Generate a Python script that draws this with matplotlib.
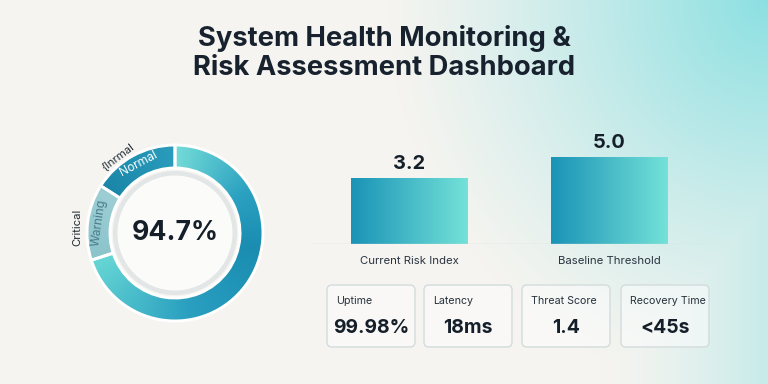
import numpy as np
import matplotlib
matplotlib.use("Agg")
import matplotlib.pyplot as plt
from matplotlib.patches import Circle, FancyBboxPatch
from matplotlib.colors import to_rgb

plt.rcParams['font.family'] = ['Inter', 'DejaVu Sans']

# ---- data ----
title_lines = ["System Health Monitoring &", "Risk Assessment Dashboard"]

ring_names = ["Healthy", "Warning", "Normal"]
ring_values = [70, 14, 16]
center_value = "94.7%"

bar_labels = ["Current Risk Index", "Baseline Threshold"]
bar_values = [3.2, 5.0]

kpi_labels = ["Uptime", "Latency", "Threat Score", "Recovery Time"]
kpi_values = ["99.98%", "18ms", "1.4", "<45s"]

W, H = 768, 384
fig = plt.figure(figsize=(W / 96, H / 96), dpi=96)

# ---- background ----
bg = fig.add_axes([0, 0, 1, 1])
yy, xx = np.mgrid[0:H, 0:W] + 0.5
d = np.sqrt(((W - xx) / 380.0) ** 2 + (yy / 400.0) ** 2)
t = np.clip(1 - d, 0, 1) ** 1.2
t = np.maximum(t, np.clip((xx - 600) / 168.0, 0, 1) ** 1.5 * 0.45)
c0 = np.array(to_rgb('#f5f4f0'))
c1 = np.array(to_rgb('#8ce0e2'))
img = c0[None, None, :] * (1 - t[..., None]) + c1[None, None, :] * t[..., None]
bg.imshow(img, extent=(0, W, H, 0), aspect='auto', zorder=0)
bg.set_xlim(0, W)
bg.set_ylim(H, 0)
bg.axis('off')

for i, line in enumerate(title_lines):
    bg.text(W / 2, 38 + 30 * i, line, ha='center', va='center', fontsize=20.5,
            fontweight='bold', color='#17222e', zorder=3)

# ---- KPI cards ----
card_x = [327, 424, 522, 621]
card_w, card_top, card_h = 88, 285, 62
for cx, lab, val in zip(card_x, kpi_labels, kpi_values):
    box = FancyBboxPatch((cx, card_top), card_w, card_h,
                         boxstyle="round,pad=0,rounding_size=5",
                         facecolor=(1, 1, 1, 0.45), edgecolor='#d2dbdb',
                         linewidth=1, zorder=2)
    bg.add_patch(box)
    bg.text(cx + 9, card_top + 16, lab, ha='left', va='center', fontsize=8,
            color='#27323d', zorder=3)
    bg.text(cx + card_w / 2, card_top + 43, val, ha='center', va='center',
            fontsize=14.5, fontweight='bold', color='#151f29', zorder=3)

# ---- donut ----
cx_px, cy_px, box_px = 175, 233, 200
ax = fig.add_axes([(cx_px - box_px / 2) / W, (H - cy_px - box_px / 2) / H,
                   box_px / W, box_px / H])
ax.patch.set_alpha(0)

wedges, _ = ax.pie(ring_values, startangle=90, counterclock=False, radius=0.88,
                   wedgeprops=dict(width=0.23, edgecolor='white', linewidth=2.2,
                                   facecolor='none'))

# angular colour ramp, measured clockwise from top
stops = [0, 60, 100, 170, 251, 252, 301, 302, 360]
cols = ['#74dcd8', '#2ba1c1', '#1a8db1', '#2a9fc0', '#66d6d4',
        '#8cc4cc', '#9dced4', '#1a86a8', '#2a9cbc']
cols = np.array([to_rgb(c) for c in cols])
gy, gx = np.mgrid[1:-1:400j, -1:1:400j]
s = (90 - np.degrees(np.arctan2(gy, gx))) % 360
ramp = np.dstack([np.interp(s, stops, cols[:, k]) for k in range(3)])
for w in wedges:
    im = ax.imshow(ramp, extent=(-1, 1, -1, 1), zorder=1)
    im.set_clip_path(w)
    w.set_zorder(2)

ax.add_patch(Circle((0, 0), 0.62, facecolor='#e3e6e6', edgecolor='none', zorder=3))
ax.add_patch(Circle((0, 0), 0.575, facecolor='#fbfbfa', edgecolor='none', zorder=4))
ax.text(0, 0, center_value, ha='center', va='center', fontsize=20,
        fontweight='bold', color='#151f29', zorder=5)


def polar(r, a):
    return r * np.cos(np.radians(a)), r * np.sin(np.radians(a))


ax.text(*polar(0.78, 118), "Normal", rotation=28, ha='center', va='center',
        fontsize=9, color='white', zorder=5, rotation_mode='anchor')
ax.text(*polar(0.765, 172), "Warning", rotation=82, ha='center', va='center',
        fontsize=9, color='#4a7d8a', zorder=5, rotation_mode='anchor')
ax.text(*polar(0.96, 127), "{Inrmal", rotation=37, ha='center', va='center',
        fontsize=8.5, color='#1f2a33', zorder=5, rotation_mode='anchor')
ax.text(*polar(0.98, 177), "Critical", rotation=90, ha='center', va='center',
        fontsize=8.5, color='#1f2a33', zorder=5, rotation_mode='anchor')
ax.set_xlim(-1, 1)
ax.set_ylim(-1, 1)
ax.set_aspect('equal')
ax.axis('off')

# ---- bars ----
base_y, top_y, left_x, right_x = 244, 134, 312, 705
bx = fig.add_axes([left_x / W, (H - base_y) / H, (right_x - left_x) / W,
                   (base_y - top_y) / H])
bx.patch.set_alpha(0)
floor = -2.5
unit = 87 / (bar_values[1] - floor)
xs = np.arange(len(bar_values))
bars = bx.bar(xs, np.array(bar_values) - floor, bottom=floor, width=0.586,
              color='none', zorder=2)
grad = np.linspace(0, 1, 256)[None, :]
ca, cb = np.array(to_rgb('#1a93b6')), np.array(to_rgb('#74e2d8'))
gimg = ca[None, None, :] * (1 - grad[..., None]) + cb[None, None, :] * grad[..., None]
for b, v in zip(bars, bar_values):
    x0 = b.get_x()
    im = bx.imshow(gimg, extent=(x0, x0 + b.get_width(), floor, v),
                   aspect='auto', zorder=1)
    im.set_clip_path(b)
    bx.annotate(f"{v:.1f}", (b.get_x() + b.get_width() / 2, v),
                xytext=(0, 4), textcoords='offset points', ha='center',
                va='bottom', fontsize=15, fontweight='bold', color='#151f29')
bx.set_aspect('auto')
bx.set_xlim(-0.489, 1.481)
bx.set_ylim(floor, floor + (base_y - top_y) / unit)
bx.axhline(floor, color='#d3dcdc', linewidth=1, zorder=3)
for sp in bx.spines.values():
    sp.set_visible(False)
bx.set_yticks([])
bx.set_xticks(xs)
bx.set_xticklabels(bar_labels, fontsize=8.5, color='#2a3440')
bx.tick_params(axis='x', length=0, pad=9)

fig.savefig("out.png", dpi=96)
